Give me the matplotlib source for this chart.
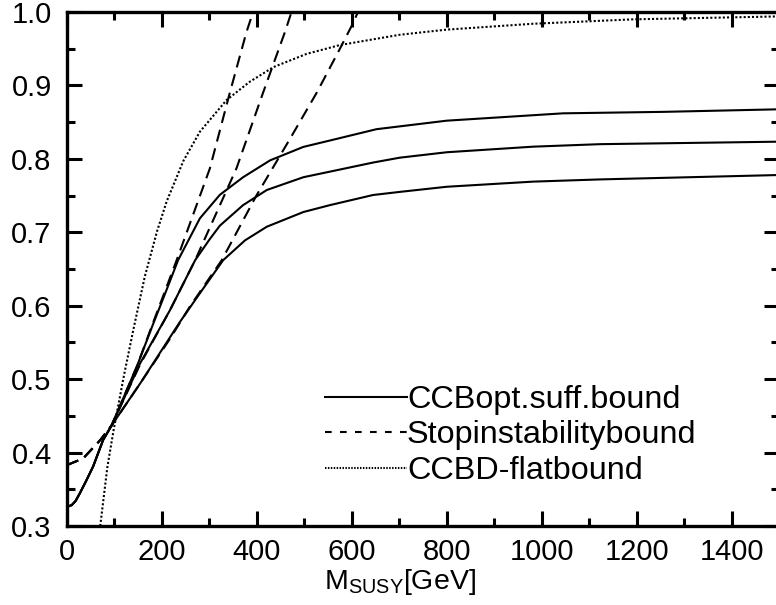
import matplotlib
matplotlib.use("Agg")
import matplotlib.pyplot as plt
from matplotlib.lines import Line2D
from matplotlib.ticker import MultipleLocator

plt.rcParams['font.family'] = ['Liberation Sans', 'DejaVu Sans']
plt.rcParams['mathtext.fontset'] = 'custom'
plt.rcParams['mathtext.rm'] = 'Liberation Sans'
plt.rcParams['mathtext.it'] = 'Liberation Sans:italic'

# ---- data ----
solid_top_x = [0, 10, 18, 27, 40, 55, 76, 94, 147, 182, 210, 234, 280, 322, 371, 428, 498, 554, 652, 800, 1045, 1256, 1500]
solid_top_y = [0.326, 0.3285, 0.334, 0.3445, 0.361, 0.381, 0.417, 0.437, 0.517, 0.576, 0.622, 0.662, 0.719, 0.751, 0.775, 0.798, 0.8163, 0.825, 0.8404, 0.852, 0.862, 0.864, 0.8675]

solid_mid_x = [0, 10, 18, 27, 40, 55, 76, 94, 154, 217, 245, 270, 300, 322, 371, 421, 498, 554, 645, 701, 800, 982, 1123, 1500]
solid_mid_y = [0.326, 0.3285, 0.334, 0.3445, 0.361, 0.381, 0.417, 0.437, 0.5215, 0.594, 0.630, 0.662, 0.690, 0.709, 0.737, 0.7576, 0.775, 0.7826, 0.795, 0.8016, 0.809, 0.8166, 0.820, 0.8234]

solid_bot_x = [0, 10, 18, 27, 40, 55, 76, 94, 154, 238, 280, 329, 375, 421, 498, 554, 645, 701, 800, 982, 1123, 1500]
solid_bot_y = [0.326, 0.3285, 0.334, 0.3445, 0.361, 0.381, 0.417, 0.437, 0.494, 0.578, 0.617, 0.662, 0.689, 0.7076, 0.7276, 0.737, 0.7508, 0.755, 0.762, 0.769, 0.772, 0.778]

dash_1_x = [0, 34, 70, 94, 147, 182, 231, 301, 343, 378, 392]
dash_1_y = [0.383, 0.392, 0.417, 0.437, 0.517, 0.578, 0.662, 0.787, 0.890, 0.9725, 1.0]

dash_2_x = [0, 34, 70, 94, 154, 217, 270, 357, 413, 459, 473]
dash_2_y = [0.383, 0.392, 0.417, 0.437, 0.520, 0.594, 0.662, 0.787, 0.890, 0.9725, 1.0]

dash_3_x = [0, 34, 70, 94, 154, 217, 259, 326, 399, 470, 526, 575, 600, 613]
dash_3_y = [0.383, 0.392, 0.417, 0.437, 0.494, 0.555, 0.599, 0.662, 0.750, 0.8275, 0.890, 0.950, 0.9815, 1.0]

dot_x = [70, 85, 98, 120, 140, 164, 190, 210, 245, 280, 336, 385, 435, 505, 575, 701, 800, 982, 1193, 1500]
dot_y = [0.30, 0.38, 0.43, 0.505, 0.568, 0.640, 0.702, 0.742, 0.797, 0.837, 0.880, 0.905, 0.925, 0.943, 0.955, 0.969, 0.976, 0.984, 0.990, 0.994]

legend_labels = ['CCBopt.suff.bound', 'Stopinstabilitybound', 'CCBD-flatbound']
x_ticks = [0, 200, 400, 600, 800, 1000, 1200, 1400]
y_ticks = [0.3, 0.4, 0.5, 0.6, 0.7, 0.8, 0.9, 1.0]

# ---- figure ----
W, H = 776, 605
fig = plt.figure(figsize=(W / 100, H / 100), dpi=100)
ax = fig.add_axes([67 / W, 1 - 526 / H, 712 / W, 514 / H])

lw = 1.5
for xs, ys in [(solid_top_x, solid_top_y), (solid_mid_x, solid_mid_y), (solid_bot_x, solid_bot_y)]:
    ax.plot(xs, ys, color='black', lw=lw, solid_joinstyle='round')
for xs, ys in [(dash_1_x, dash_1_y), (dash_2_x, dash_2_y), (dash_3_x, dash_3_y)]:
    ax.plot(xs, ys, color='black', lw=lw, dashes=(5.8, 3.4))
ax.plot(dot_x, dot_y, color='black', lw=lw, dashes=(1.0, 1.0))

ax.set_xlim(0, 1500)
ax.set_ylim(0.3, 1.0)
ax.set_xticks(x_ticks)
ax.set_yticks(y_ticks)
ax.set_xticklabels([str(t) for t in x_ticks])
ax.set_yticklabels([f"{t:.1f}" for t in y_ticks])
ax.xaxis.set_minor_locator(MultipleLocator(100))
ax.yaxis.set_minor_locator(MultipleLocator(0.05))
ax.tick_params(which='both', direction='in', top=True, right=True, width=2.2, colors='black')
ax.tick_params(which='major', length=11, labelsize=21)
ax.tick_params(which='minor', length=6)
ax.tick_params(axis='x', which='major', pad=8.5)
ax.tick_params(axis='y', which='major', pad=11)
for s in ax.spines.values():
    s.set_linewidth(2.4)

# x label
fig.text(400 / W, 1 - 589 / H, r'M$_{\mathrm{SUSY}}$[GeV]', ha='center', va='baseline', fontsize=20.5)

# manual legend (no frame)
rows_px = [397, 432, 468]
styles = [dict(), dict(dashes=(3.2, 4.0)), dict(dashes=(0.7, 0.7))]
x0, x1 = 325 / W, 407 / W
for ypx, lab, st in zip(rows_px, legend_labels, styles):
    yf = 1 - ypx / H
    fig.add_artist(Line2D([x0, x1], [yf, yf], transform=fig.transFigure, color='black', lw=lw, **st))
    fig.text(x1, 1 - (ypx + 11.4) / H, lab, ha='left', va='baseline', fontsize=23.3)

fig.savefig('out.png', dpi=100)
